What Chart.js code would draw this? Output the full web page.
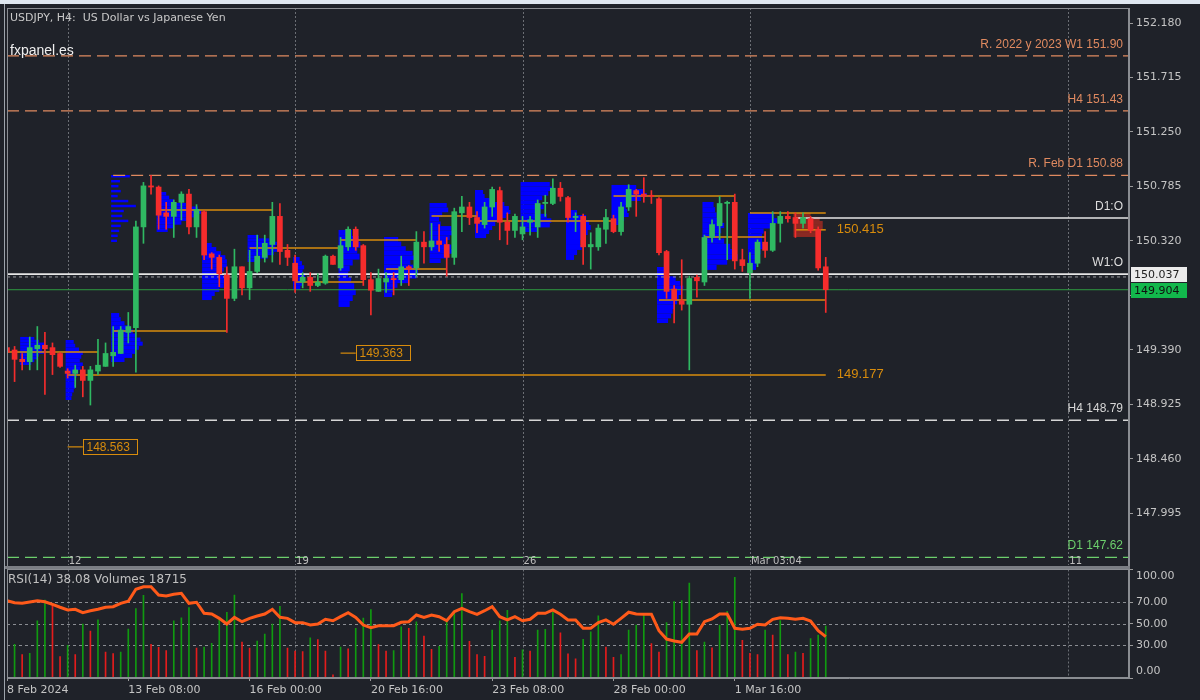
<!DOCTYPE html>
<html><head><meta charset="utf-8">
<title>USDJPY H4</title>
<script src="https://cdn.jsdelivr.net/npm/chart.js@4.4.1/dist/chart.umd.min.js"></script>
<style>
html,body{margin:0;padding:0;width:1200px;height:700px;overflow:hidden;background:#1f2229;}
canvas{position:absolute;left:0;display:block;}
#c1{top:0;} #c2{top:567px;}
.strip{position:absolute;left:0;top:0;width:1200px;height:4px;background:#dfe7f0;}
.edge{position:absolute;left:4px;top:4px;width:1px;height:696px;background:#9da3ab;}
.sep{position:absolute;left:5px;top:566px;width:1125px;height:3px;background:#7b7e84;}
</style></head><body>
<div class="strip"></div><div class="edge"></div>
<canvas id="c1" width="1200" height="567"></canvas>
<canvas id="c2" width="1200" height="133"></canvas>
<div class="sep"></div>
<script>
// ---------- DATA ----------
// bar numbers (H4 bars counted from 8 Feb 2024 00:00, trading bars only)
const bars = [4,5,6,7,8,9,10,11,12,13,14,15,16,17,18,19,20,21,22,23,24,25,26,27,28,29,30,31,32,33,34,35,36,37,38,39,40,41,42,43,44,45,46,47,48,49,50,51,52,53,54,55,56,57,58,59,60,61,62,63,64,65,66,67,68,69,70,71,72,73,74,75,76,77,78,79,80,81,82,83,84,85,86,87,88,89,90,91,92,93,94,95,96,97,98,99,100,101,102,103,104,105,106,107,108,109,110,111,112];
const opens = [
149.41,149.39,149.31,149.29,149.40,149.43,149.41,149.36,149.21,149.19,
149.22,149.13,149.21,149.25,149.34,149.36,149.54,149.58,150.44,150.79,
150.78,150.56,150.53,150.65,150.72,150.44,150.57,150.21,150.18,150.03,
149.83,150.10,149.92,150.06,150.18,150.29,150.53,150.24,150.13,149.97,
150.01,149.94,149.96,150.19,150.09,150.27,150.42,150.28,149.99,149.89,
149.97,150.00,149.99,150.10,150.09,150.31,150.27,150.32,150.29,150.18,
150.56,150.61,150.52,150.46,150.61,150.75,150.48,150.41,150.38,150.48,
150.44,150.64,150.64,150.77,150.69,150.52,150.53,150.27,150.27,150.42,
150.51,150.40,150.61,150.75,150.72,150.71,150.68,150.23,149.91,149.81,
149.78,150.01,149.97,150.35,150.45,150.64,150.65,150.16,150.05,150.13,
150.31,150.24,150.47,150.53,150.52,150.47,150.51,150.42,150.10];
const highs = [
149.42,149.42,149.36,149.50,149.59,149.54,149.45,149.37,149.23,149.26,
149.25,149.25,149.48,149.45,149.59,149.59,149.71,150.49,150.82,150.88,
150.79,150.65,150.67,150.74,150.76,150.63,150.58,150.22,150.20,150.10,
150.25,150.10,150.24,150.37,150.37,150.65,150.64,150.29,150.20,150.05,
150.05,150.04,150.20,150.20,150.35,150.44,150.44,150.29,150.05,150.08,
150.05,150.05,150.19,150.11,150.40,150.40,150.47,150.46,150.35,150.60,
150.70,150.65,150.57,150.65,150.78,150.78,150.56,150.55,150.53,150.53,
150.67,150.71,150.85,150.82,150.70,150.56,150.55,150.39,150.46,150.59,
150.54,150.65,150.80,150.76,150.86,150.75,150.69,150.24,149.94,150.16,
150.02,150.03,150.37,150.50,150.70,150.66,150.72,150.25,150.22,150.33,
150.40,150.57,150.57,150.57,150.56,150.56,150.53,150.44,150.18];
const lows = [
149.35,149.12,149.22,149.22,149.22,149.01,149.18,149.24,149.15,149.07,
148.99,148.92,149.18,149.25,149.25,149.36,149.45,149.20,150.30,150.72,
150.42,150.42,150.35,150.50,150.38,150.35,150.16,150.08,149.93,149.54,
149.81,149.86,149.82,150.05,150.14,150.14,150.12,150.11,149.88,149.92,
149.89,149.93,149.95,150.12,150.07,150.24,150.24,149.94,149.69,149.89,
149.88,149.86,149.94,149.94,150.02,150.13,150.24,150.23,150.02,150.12,
150.40,150.46,150.39,150.43,150.53,150.33,150.29,150.35,150.33,150.37,
150.35,150.53,150.63,150.66,150.48,150.40,150.12,150.08,150.24,150.30,
150.39,150.37,150.58,150.53,150.65,150.64,150.20,149.83,149.62,149.73,
149.22,149.84,149.94,150.31,150.33,150.16,150.08,150.06,149.83,150.10,
150.18,150.23,150.31,150.48,150.35,150.43,150.39,150.07,149.71];
const closes = [
149.37,149.31,149.29,149.41,149.43,149.40,149.35,149.25,149.19,149.22,
149.13,149.22,149.26,149.36,149.37,149.56,149.59,150.44,150.79,150.78,
150.54,150.53,150.65,150.72,150.44,150.59,150.20,150.18,150.04,149.83,
150.10,149.92,150.06,150.19,150.30,150.53,150.23,150.18,149.98,150.01,
149.94,149.97,150.19,150.12,150.28,150.42,150.27,149.99,149.90,150.00,
150.00,149.99,150.10,150.08,150.31,150.27,150.32,150.29,150.18,150.57,
150.61,150.52,150.47,150.61,150.76,150.48,150.41,150.53,150.44,150.50,
150.64,150.65,150.77,150.70,150.52,150.53,150.27,150.29,150.43,150.52,
150.40,150.61,150.76,150.72,150.70,150.70,150.22,149.89,149.82,149.78,
150.00,149.98,150.35,150.46,150.64,150.65,150.15,150.11,150.13,150.31,
150.24,150.47,150.53,150.51,150.47,150.52,150.41,150.09,149.904];
const volumes = [
10500,12110,8440,8920,20550,28000,26420,7710,11740,8440,
19450,16880,20920,9290,8810,9290,17620,24960,29730,12110,
11010,9910,20550,21650,25320,10750,11120,12480,21650,23600,
29840,12960,10750,13320,15780,19450,25800,10750,9650,9540,
14420,13840,9650,1100,11120,10530,17870,21540,24590,12000,
9650,9910,18460,17870,20190,15050,10280,11380,20550,23970,
30350,13210,8440,7820,17250,20550,24330,7450,10170,9650,
17250,17510,23750,16260,8700,6860,13950,16630,22390,11120,
7450,8440,17250,19080,23010,12370,9290,19930,27530,27890,
34130,9910,12960,10900,19080,23970,36220,13580,8920,8440,
17250,15410,20660,8440,9290,8920,14200,15410,18715];
const rsi = [
71.2,69.4,68.8,70.0,71.2,70.3,67.9,65.2,62.7,63.3,
60.2,62.0,63.3,65.2,65.7,68.8,70.7,81.8,84.1,84.1,
76.5,75.6,77.1,78.1,68.8,69.8,59.6,59.0,55.0,49.8,
55.9,51.9,55.0,57.1,59.0,63.3,55.9,55.0,51.0,51.0,
48.8,49.8,54.1,52.8,56.5,60.2,55.9,48.8,46.4,48.2,
48.2,48.2,51.3,51.9,58.1,55.9,58.1,56.5,52.8,61.1,
64.2,61.1,58.7,62.0,65.7,56.5,53.5,56.5,52.8,54.1,
59.6,59.6,62.7,58.7,53.5,53.5,45.8,45.8,51.0,53.5,
49.5,55.0,60.6,59.0,58.7,58.7,43.6,35.9,34.1,32.9,
40.6,40.6,51.9,54.4,59.0,59.0,45.8,44.9,45.8,49.5,
48.8,54.1,55.6,55.0,54.1,55.0,52.5,43.6,38.08];

// axis ticks
const priceTicks = [147.995,148.460,148.925,149.390,149.855,150.320,150.785,151.250,151.715,152.180];
const rsiTicks = [0,30,50,70,100];
const rsiLevels = [30,50,70];
const timeTickBars = [4,20,36,52,68,84,100];
const timeTickLabels = ['8 Feb 2024','13 Feb 08:00','16 Feb 00:00','20 Feb 16:00','23 Feb 08:00','28 Feb 00:00','1 Mar 16:00'];
const weekBars = [12,42,72,102,144];
const weekLabels = ['12','19','26','Mar 03:04','11'];

// support / resistance levels
const levelNames = ['R. 2022 y 2023 W1 151.90','H4 151.43','R. Feb D1 150.88','H4 148.79','D1 147.62'];
const levelPrices = [151.90,151.43,150.88,148.79,147.62];
const levelStarts = [4,4,18,4,4];
// period opens
const openNames = ['D1:O','W1:O'];
const openPrices = [150.516,150.037];
const openStarts = [108,4];
const refPrice = 150.013;
const bidPrice = 149.904;
// naked POC lines of the daily profiles
const pocStarts = [4,18,24,36,48,42,54,60,66,84,96,90,102];
const pocEnds   = [16,33,39,48,58,51,62,66,84,100,104,112,112];
const pocPrices = [149.373,149.552,150.584,150.260,150.328,149.970,150.081,150.533,150.490,150.704,150.354,149.816,150.559];
// labelled orange levels
const tagPrices = [150.415,149.177];
const tagStarts = [108,12];
const tagEnds = [112,112];
const boxPrices = [149.363,148.563];
const boxStarts = [48,12];
const boxEnds = [50,14];

// daily volume profiles: start bar, high, low, row lengths (in bars) from top to bottom
const profileStarts = [6,12,18,18,24,30,36,42,48,54,60,66,72,78,84,90,96,102,108];
const profileHighs = [149.501,149.475,149.705,150.883,150.738,150.303,150.371,150.183,150.414,150.354,150.644,150.755,150.823,150.584,150.798,150.098,150.653,150.559,150.559];
const profileLows  = [149.262,148.963,149.287,150.311,150.397,149.816,150.141,149.902,149.757,149.842,150.132,150.345,150.397,150.158,150.456,149.620,150.073,150.073,150.354];
const profileRows = [
 [1.6,2.2,2.9,2.9,2.6,2.9,2.2,2.0,1.6,1.2],
 [0.8,1.0,1.5,2.0,1.8,1.6,2.0,1.7,1.4,1.2,1.0,0.9,1.0,0.8,0.6,0.5],
 [0.8,1.0,1.5,2.2,2.6,3.0,3.6,3.9,3.4,3.0,2.5,1.5],
 [2.2,0,0.9,0,0.7,0,1.0,0,0.6,0,2.0,0,3.0,0,1.4,0,1.2,0,2.0,0,1.0,0,0.8,0,0.6,0,0.5],
 [1.0,1.4,2.0,3.6,5.2,5.6,5.0,4.2,3.0,2.0,1.2],
 [1.0,1.6,2.2,2.8,3.0,3.0,2.6,2.4,2.8,3.1,2.6,2.0,1.4,1.0],
 [1.2,2.6,3.6,3.4,3.7,3.2,2.4,1.4],
 [0.6,0.9,1.2,1.0,1.3,1.1,0.9,0.7],
 [1.5,2.4,2.6,2.2,2.5,1.6,1.2,1.0,1.4,1.8,2.0,1.6,1.2],
 [1.6,2.0,2.6,3.5,3.7,3.2,3.6,4.2,4.0,3.0,1.5,1.0,0.8],
 [2.0,2.2,1.4,1.0,1.2,2.6,3.0,2.4,2.0,2.6,3.0,2.2,1.2],
 [0.8,1.0,2.2,3.6,4.2,4.4,3.8,3.0,2.4,2.0,1.6,1.2],
 [3.6,4.0,3.4,2.6,2.2,2.8,2.4,3.2,3.8,3.6,2.0],
 [1.2,2.4,2.8,3.0,2.6,2.0,1.6,1.8,1.2,0.8],
 [3.0,4.0,4.4,3.6,2.2,1.6,1.8,2.0,1.4,0.8],
 [0.8,1.2,2.2,2.8,3.2,3.0,2.6,2.4,2.0,1.8,1.6,1.2],
 [1.2,1.4,1.6,2.0,2.6,2.2,2.0,2.6,3.4,4.2,4.4,3.0,1.6],
 [3.2,3.6,2.8,1.8,1.6,1.6,1.8,1.4,1.2,1.0,0.8],
 [2.0,3.2,3.6,3.6,3.4,2.8]
];

// ---------- STYLE ----------
const UP = '#2fb862', DN = '#f52c2c';
const ORANGE = '#d88c0c';
const levelColors = ['#e08a60','#e08a60','#e08a60','#d6d6d6','#6ccf6c'];
const AXIS_FONT = {family:'"DejaVu Sans", sans-serif', size:11};
const AXIS_TXT = '#c4c4c4';
const FRAME = '#8a8d92';

const candleCol = bars.map((b,k)=> closes[k] >= opens[k] ? UP : DN);
const volCol = volumes.map((v,k)=> (k>0 && v > volumes[k-1]) ? '#109a10' : '#e41c1c');

function seg(x1,x2,p,color,width,dash,order){
  return {type:'line', data:[{x:x1,y:p},{x:x2,y:p}], borderColor:color, borderWidth:width,
          borderDash:dash||[], pointRadius:0, order:order, tension:0};
}

const mainSets = [
  {type:'bar', data:bars.map((b,k)=>({x:b,y:[opens[k],closes[k]]})), backgroundColor:candleCol,
   barThickness:5, minBarLength:1, grouped:false, order:0},
  {type:'bar', data:bars.map((b,k)=>({x:b,y:[lows[k],highs[k]]})), backgroundColor:candleCol,
   barThickness:1, grouped:false, order:1}
];
levelPrices.forEach((p,k)=>mainSets.push(seg(levelStarts[k],152,p,levelColors[k],1.3,[12,6],4)));
openPrices.forEach((p,k)=>mainSets.push(seg(openStarts[k],152,p,'#e6e6e6',1.6,null,4)));
mainSets.push(seg(4,152,refPrice,'#9a9ca0',1,[3,3],4));
mainSets.push(seg(4,152,bidPrice,'#2f9a40',1,null,4));
pocPrices.forEach((p,k)=>mainSets.push(seg(pocStarts[k],pocEnds[k],p,ORANGE,1.5,null,3)));
tagPrices.forEach((p,k)=>mainSets.push(seg(tagStarts[k],tagEnds[k],p,ORANGE,1.5,null,3)));
boxPrices.forEach((p,k)=>mainSets.push(seg(boxStarts[k],boxEnds[k],p,ORANGE,1.2,null,3)));

const mainDecor = {
  id:'mainDecor',
  beforeDatasetsDraw(chart){
    const {ctx, chartArea:a, scales:{x,y}} = chart;
    ctx.save();
    ctx.beginPath(); ctx.rect(a.left,a.top,a.right-a.left,a.bottom-a.top); ctx.clip();
    ctx.strokeStyle='#6b6e74'; ctx.lineWidth=1; ctx.setLineDash([2,2]);
    weekBars.forEach(b=>{const xx=Math.round(x.getPixelForValue(b))+0.5;
      ctx.beginPath(); ctx.moveTo(xx,a.top); ctx.lineTo(xx,a.bottom); ctx.stroke();});
    ctx.setLineDash([]);
    profileStarts.forEach((s,k)=>{
      const rows=profileRows[k], hi=profileHighs[k], lo=profileLows[k];
      const step=(hi-lo)/rows.length;
      ctx.fillStyle = k===profileStarts.length-1 ? 'rgba(150,42,34,0.9)' : '#0000ff';
      const x1=x.getPixelForValue(s)-2;
      rows.forEach((w,r)=>{
        if(!w) return;
        const y1=y.getPixelForValue(hi-r*step), y2=y.getPixelForValue(hi-(r+1)*step);
        const x2=x.getPixelForValue(s+w);
        ctx.fillRect(x1,y1,x2-x1,y2-y1);
      });
    });
    ctx.restore();
  },
  afterDraw(chart){
    const {ctx, chartArea:a, scales:{x,y}} = chart;
    ctx.save();
    ctx.strokeStyle=FRAME; ctx.lineWidth=1;
    ctx.strokeRect(a.left+0.5,a.top+0.5,a.right-a.left-1,a.bottom-a.top+2);
    // titles
    ctx.textBaseline='middle'; ctx.textAlign='left';
    ctx.font='11px "DejaVu Sans"'; ctx.fillStyle='#c8c8c8';
    ctx.fillText('USDJPY, H4:  US Dollar vs Japanese Yen',10,18);
    ctx.font='14px "Liberation Sans"'; ctx.fillStyle='#efefef';
    ctx.fillText('fxpanel.es',10,51);
    // level labels
    ctx.textAlign='right'; ctx.textBaseline='alphabetic';
    ctx.font='12px "Liberation Sans"';
    levelNames.forEach((t,k)=>{ctx.fillStyle=levelColors[k]; ctx.fillText(t,a.right-6,y.getPixelForValue(levelPrices[k])-8);});
    ctx.fillStyle='#dedede';
    openNames.forEach((t,k)=>{ctx.fillText(t,a.right-6,y.getPixelForValue(openPrices[k])-8);});
    // orange tags
    ctx.textAlign='left'; ctx.textBaseline='middle';
    ctx.font='13px "Liberation Sans"'; ctx.fillStyle=ORANGE;
    tagPrices.forEach((p,k)=>ctx.fillText(p.toFixed(3), x.getPixelForValue(tagEnds[k])+11, y.getPixelForValue(p)));
    ctx.font='12px "Liberation Sans"';
    boxPrices.forEach((p,k)=>{
      const bx=Math.round(x.getPixelForValue(boxEnds[k]))+0.5, by=Math.round(y.getPixelForValue(p));
      ctx.strokeStyle=ORANGE; ctx.lineWidth=1; ctx.strokeRect(bx,by-7.5,54,15);
      ctx.fillStyle=ORANGE; ctx.fillText(p.toFixed(3),bx+3,by+0.5);
    });
    // week labels
    ctx.font='10px "DejaVu Sans"'; ctx.fillStyle='#bdbdbd'; ctx.textBaseline='bottom';
    weekBars.forEach((b,k)=>ctx.fillText(weekLabels[k], x.getPixelForValue(b)+1, a.bottom+1));
    // price boxes on the axis
    ctx.textBaseline='middle'; ctx.font='11px "DejaVu Sans"';
    [[openPrices[1],'#ebebeb','#222'],[bidPrice,'#12b84c','#101010']].forEach(([p,bg,fg])=>{
      const py=Math.round(y.getPixelForValue(p));
      ctx.fillStyle=bg; ctx.fillRect(a.right+2,py-7,56,15);
      ctx.fillStyle=fg; ctx.fillText(p.toFixed(3),a.right+5,py+1);
    });
    ctx.restore();
  }
};

new Chart(document.getElementById('c1'), {
  type:'bar',
  data:{datasets:mainSets},
  options:{
    responsive:false, animation:false, events:[],
    layout:{padding:{left:7,top:8,right:0,bottom:2}},
    plugins:{legend:{display:false}, tooltip:{enabled:false}},
    scales:{
      x:{type:'linear', min:4, max:152, offset:false, display:false},
      y:{type:'linear', position:'right', min:147.555, max:152.308,
         afterBuildTicks:s=>{s.ticks=priceTicks.map(v=>({value:v}));},
         afterFit:s=>{s.width=71; s.paddingTop=0; s.paddingBottom=0;},
         ticks:{callback:v=>Number(v).toFixed(3), color:AXIS_TXT, font:AXIS_FONT, padding:3, autoSkip:false},
         grid:{drawOnChartArea:false, drawTicks:true, tickLength:4, color:'#9a9a9a'},
         border:{display:true, color:FRAME}}
    }
  },
  plugins:[mainDecor]
});

// ---------- RSI + VOLUMES ----------
const rsiDecor = {
  id:'rsiDecor',
  beforeDatasetsDraw(chart){
    const {ctx, chartArea:a, scales:{x,y}} = chart;
    ctx.save();
    ctx.strokeStyle='#6b6e74'; ctx.lineWidth=1; ctx.setLineDash([2,2]);
    weekBars.forEach(b=>{const xx=Math.round(x.getPixelForValue(b))+0.5;
      ctx.beginPath(); ctx.moveTo(xx,a.top); ctx.lineTo(xx,a.bottom); ctx.stroke();});
    ctx.strokeStyle='#8a8d92'; ctx.setLineDash([3,3]);
    rsiLevels.forEach(v=>{const yy=Math.round(y.getPixelForValue(v))+0.5;
      ctx.beginPath(); ctx.moveTo(a.left,yy); ctx.lineTo(a.right,yy); ctx.stroke();});
    ctx.restore();
  },
  afterDraw(chart){
    const {ctx, chartArea:a} = chart;
    ctx.save();
    ctx.strokeStyle=FRAME; ctx.lineWidth=1;
    ctx.strokeRect(a.left+0.5,a.top,a.right-a.left-1,a.bottom-a.top-0.5);
    ctx.font='12px "DejaVu Sans"'; ctx.fillStyle='#c0c0c0'; ctx.textBaseline='middle'; ctx.textAlign='left';
    ctx.fillText('RSI(14) '+rsi[rsi.length-1].toFixed(2)+' Volumes '+volumes[volumes.length-1], 8, a.top+10);
    ctx.restore();
  }
};

new Chart(document.getElementById('c2'), {
  type:'bar',
  data:{datasets:[
    {type:'line', data:bars.map((b,k)=>({x:b,y:rsi[k]})), borderColor:'#ff5a1a', borderWidth:3,
     pointRadius:0, tension:0, yAxisID:'y', order:0},
    {type:'bar', data:bars.map((b,k)=>({x:b,y:volumes[k]})), backgroundColor:volCol,
     barThickness:1, grouped:false, yAxisID:'yv', order:1}
  ]},
  options:{
    responsive:false, animation:false, events:[],
    layout:{padding:{left:7,top:2.5,right:0,bottom:0}},
    plugins:{legend:{display:false}, tooltip:{enabled:false}},
    scales:{
      x:{type:'linear', min:4, max:152, offset:false, position:'bottom',
         afterBuildTicks:s=>{s.ticks=timeTickBars.map(v=>({value:v}));},
         afterFit:s=>{s.height=22; s.paddingLeft=0; s.paddingRight=0;},
         ticks:{callback:(v,i)=>timeTickLabels[i], align:'start', maxRotation:0, minRotation:0,
                autoSkip:false, padding:3, color:AXIS_TXT, font:AXIS_FONT},
         grid:{drawOnChartArea:false, drawTicks:true, tickLength:3, color:'#9a9a9a', offset:false},
         border:{display:true, color:FRAME}},
      y:{type:'linear', position:'right', min:0, max:100,
         afterBuildTicks:s=>{s.ticks=rsiTicks.map(v=>({value:v}));},
         afterFit:s=>{s.width=71; s.paddingTop=0; s.paddingBottom=0;},
         ticks:{callback:v=> v===100 ? ['', '100.00'] : (v===0 ? ['0.00',''] : Number(v).toFixed(2)),
                color:AXIS_TXT, font:AXIS_FONT, padding:3, autoSkip:false},
         grid:{drawOnChartArea:false, drawTicks:true, tickLength:4, color:'#9a9a9a'},
         border:{display:true, color:FRAME}},
      yv:{type:'linear', display:false, min:0, max:39050}
    }
  },
  plugins:[rsiDecor]
});
</script>
</body></html>
